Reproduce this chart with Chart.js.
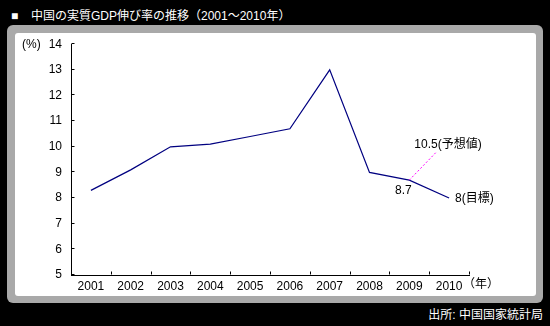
<!DOCTYPE html>
<html lang="ja">
<head>
  <meta charset="UTF-8">
  <title>中国の実質GDP伸び率の推移</title>
  <script src="https://cdn.jsdelivr.net/npm/chart.js@4.4.1/dist/chart.umd.min.js"></script>
  <style>
    body { margin: 0; background: #000; width: 550px; height: 326px; overflow: hidden;
      font-family: "Liberation Sans", "Noto Sans CJK JP", sans-serif; }
    .title { position: absolute; left: 11px; top: 6px; color: #fff; font-size: 12px; white-space: nowrap; }
    .title span { display: inline-block; width: 20px; }
    .frame { position: absolute; left: 7px; top: 25px; width: 536px; height: 278px;
      background: #a9a9a9; border-radius: 6px; }
    .inner { position: absolute; left: 15px; top: 33px; width: 521px; height: 263px;
      background: #fff; border-radius: 3px; }
    #gdp { position: absolute; left: 15px; top: 28px; }
    .source { position: absolute; right: 7px; top: 305px; color: #fff; font-size: 12px; white-space: nowrap; }
  </style>
</head>
<body>
  <div class="title"><span>■</span>中国の実質GDP伸び率の推移（2001〜2010年）</div>
  <div class="frame"></div>
  <div class="inner"></div>
  <canvas id="gdp" width="521" height="268"></canvas>
  <div class="source">出所: 中国国家統計局</div>
  <script>
    const years = ['2001', '2002', '2003', '2004', '2005', '2006', '2007', '2008', '2009', '2010'];
    const growth = [8.3, 9.1, 10.0, 10.1, 10.4, 10.7, 13.0, 9.0, 8.7, 8.0];
    const yTicks = [5, 6, 7, 8, 9, 10, 11, 12, 13, 14];
    const forecastLabel = '10.5(予想値)';
    const targetLabel = '8(目標)';

    const font = '12px "Liberation Sans", "Noto Sans CJK JP", sans-serif';

    // inner tick marks, unit labels and the notes next to the last points
    const extras = {
      id: 'extras',
      afterDraw(chart) {
        const ctx = chart.ctx;
        const x = chart.scales.x, y = chart.scales.y;
        const left = Math.round(chart.chartArea.left) + 0.5;
        const bottom = Math.round(chart.chartArea.bottom) - 0.5;
        ctx.save();
        ctx.strokeStyle = '#000';
        ctx.lineWidth = 1;
        ctx.beginPath();
        yTicks.forEach(v => {
          const py = Math.round(y.getPixelForValue(v)) - 0.5;
          ctx.moveTo(left, py);
          ctx.lineTo(left + 3, py);
        });
        for (let i = 1; i <= years.length; i++) {
          const px = Math.round(x.getPixelForValue(i - 0.5)) + 0.5;
          ctx.moveTo(px, bottom);
          ctx.lineTo(px, bottom - 3);
        }
        ctx.stroke();

        ctx.fillStyle = '#000';
        ctx.font = font;
        ctx.textBaseline = 'middle';
        ctx.textAlign = 'left';
        ctx.fillText('(%)', 7, y.getPixelForValue(14));
        ctx.fillText('（年）', x.right - 6, bottom + 10);

        const i9 = years.indexOf('2009'), i10 = years.indexOf('2010');
        const p9x = x.getPixelForValue(i9), p9y = y.getPixelForValue(growth[i9]);
        const p10x = x.getPixelForValue(i10), p10y = y.getPixelForValue(growth[i10]);

        ctx.strokeStyle = '#ff00ff';
        ctx.setLineDash([2, 2]);
        ctx.beginPath();
        ctx.moveTo(p9x, p9y);
        ctx.lineTo(p9x + 27, p9y - 28);
        ctx.stroke();
        ctx.setLineDash([]);

        ctx.textAlign = 'center';
        ctx.fillText(growth[i9].toFixed(1), p9x - 6, p9y + 11);
        ctx.textAlign = 'left';
        ctx.fillText(forecastLabel, p9x + 5, p9y - 35);
        ctx.fillText(targetLabel, p10x + 6, p10y + 1);
        ctx.restore();
      }
    };

    new Chart(document.getElementById('gdp'), {
      type: 'line',
      data: {
        labels: years,
        datasets: [{
          data: growth,
          borderColor: '#000080',
          borderWidth: 1.2,
          pointRadius: 0,
          tension: 0
        }]
      },
      options: {
        responsive: false,
        animation: false,
        layout: { padding: { top: 0, right: 67, left: 0, bottom: 0 } },
        plugins: { legend: { display: false }, tooltip: { enabled: false } },
        scales: {
          x: {
            offset: true,
            grid: { display: false, drawTicks: false },
            border: { display: true, color: '#000', width: 1 },
            ticks: { color: '#000', font: { family: '"Liberation Sans", "Noto Sans CJK JP"', size: 12 }, padding: 4, maxRotation: 0 },
            afterFit: s => { s.height = 21; }
          },
          y: {
            min: 5,
            max: 14,
            afterBuildTicks: s => { s.ticks = yTicks.map(v => ({ value: v })); },
            grid: { display: false, drawTicks: false },
            border: { display: true, color: '#000', width: 1 },
            ticks: { color: '#000', font: { family: '"Liberation Sans", "Noto Sans CJK JP"', size: 12 }, padding: 9 },
            afterFit: s => { s.width = 56; }
          }
        }
      },
      plugins: [extras]
    });
  </script>
</body>
</html>
